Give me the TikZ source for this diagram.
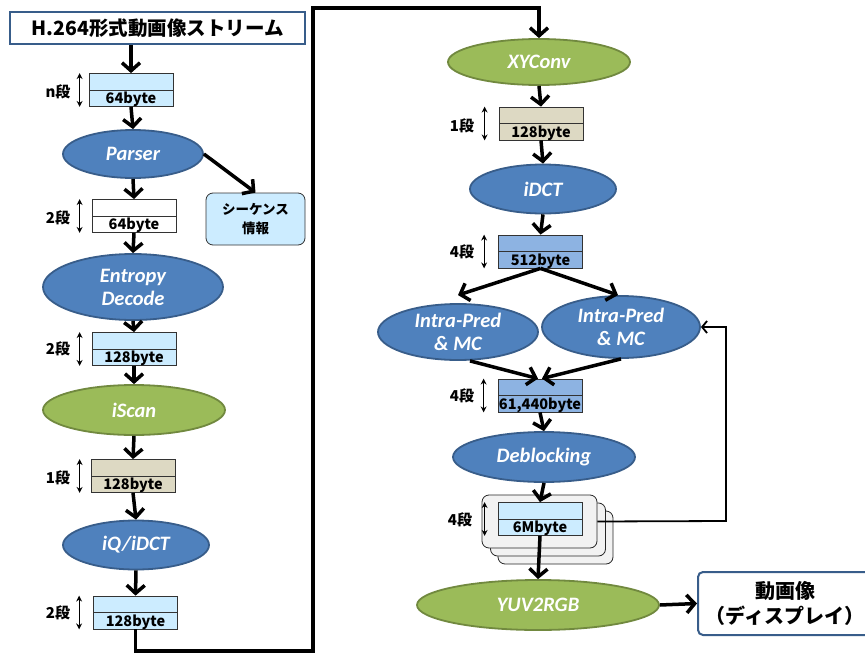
\documentclass[tikz,border=0pt]{standalone}
\usepackage{fontspec}
\setmainfont{Carlito}
\newfontfamily\jpfont{Noto Sans CJK JP}
\usetikzlibrary{shapes.geometric, arrows.meta}

\definecolor{procblue}{HTML}{4F81BD}
\definecolor{procblueline}{HTML}{385D8A}
\definecolor{procgreen}{HTML}{9BBB59}
\definecolor{procgreenline}{HTML}{71893F}
\definecolor{bufcyan}{HTML}{CCECFF}
\definecolor{bufbeige}{HTML}{DDD9C3}
\definecolor{bufblue}{HTML}{8DB3E2}
\definecolor{framegray}{HTML}{F2F2F2}

\tikzset{
  proc/.style={ellipse, inner sep=0pt, line width=1.8pt, text=white, align=center,
    font=\fontsize{20.5}{23}\selectfont\bfseries\itshape},
  blueproc/.style={proc, draw=procblueline, fill=procblue},
  greenproc/.style={proc, draw=procgreenline, fill=procgreen},
  buffer/.style={rectangle, draw=black!80, line width=0.8pt, minimum width=84pt,
    minimum height=33pt, inner sep=0pt,
    path picture={\draw[black!80, line width=1pt] (path picture bounding box.west) -- (path picture bounding box.east);}},
  bytetxt/.style={font=\jpfont\bfseries\fontsize{14.5}{16}\selectfont, inner sep=0pt, anchor=base},
  stagetxt/.style={font=\jpfont\bfseries\fontsize{15}{16}\selectfont, inner sep=0pt},
  stagearrow/.style={line width=1.1pt, >={Stealth[length=6pt,width=6pt]}},
  flow/.style={line width=3.5pt, >={Straight Barb[length=8pt,width=18pt]}},
  fb/.style={line width=1.8pt, >={Straight Barb[length=5pt,width=12pt]}},
  textbox/.style={rectangle, inner sep=0pt, align=center},
  stackframe/.style={rectangle, rounded corners=7pt, draw=black!85, line width=0.8pt,
    fill=framegray, minimum width=115pt, minimum height=53pt},
}

\begin{document}
\begin{tikzpicture}[x=1pt, y=-1pt]
\useasboundingbox (0,0) rectangle (865,653);

% left column
\node[textbox, draw=procblueline, line width=2pt, fill=white, minimum width=295pt, minimum height=32pt,
  font=\jpfont\bfseries\fontsize{19.5}{22}\selectfont] (title) at (157.5,28) {H.264形式動画像ストリーム};

\node[buffer, fill=bufcyan] (b1) at (131,90) {};
\node[bytetxt] (b1t) at ([yshift=3pt]b1.south) {64byte};
\node[stagetxt] (s1) at (58,92) {n段};
\draw[stagearrow, <->] ([xshift=-9pt]b1.north west) -- ([xshift=-9pt]b1.south west);

\node[blueproc, minimum width=140pt, minimum height=48pt] (parser) at (133,154) {Parser};

\node[buffer, fill=white] (b2) at (134,216) {};
\node[bytetxt] (b2t) at ([yshift=3pt]b2.south) {64byte};
\node[stagetxt] (s2) at (58,218) {2段};
\draw[stagearrow, <->] ([xshift=-12pt]b2.north west) -- ([xshift=-12pt]b2.south west);

\node[textbox, rounded corners=7pt, draw=black!80, line width=0.8pt, fill=bufcyan,
  minimum width=99pt, minimum height=52pt,
  font=\jpfont\bfseries\fontsize{13.5}{19}\selectfont] (seq) at (255.5,219) {シーケンス\\情報};

\node[blueproc, minimum width=180pt, minimum height=66pt] (entropy) at (133,287) {Entropy\\Decode};

\node[buffer, fill=bufcyan] (b3) at (134,349) {};
\node[bytetxt] (b3t) at ([yshift=3pt]b3.south) {128byte};
\node[stagetxt] (s3) at (58,349) {2段};
\draw[stagearrow, <->] ([xshift=-12pt]b3.north west) -- ([xshift=-12pt]b3.south west);

\node[greenproc, minimum width=182pt, minimum height=50pt] (iscan) at (134,410) {iScan};

\node[buffer, fill=bufbeige] (b4) at (133,476) {};
\node[bytetxt] (b4t) at ([yshift=3pt]b4.south) {128byte};
\node[stagetxt] (s4) at (58,478) {1段};
\draw[stagearrow, <->] ([xshift=-11pt]b4.north west) -- ([xshift=-11pt]b4.south west);

\node[blueproc, minimum width=146pt, minimum height=49pt] (iqidct) at (136,545) {iQ/iDCT};

\node[buffer, fill=bufcyan] (b5) at (135.5,612.5) {};
\node[bytetxt] (b5t) at ([yshift=3pt]b5.south) {128byte};
\node[stagetxt] (s5) at (58,613) {2段};
\draw[stagearrow, <->] ([xshift=-14pt]b5.north west) -- ([xshift=-14pt]b5.south west);

\coordinate (bend1) at (313,651);
\coordinate (bend2) at (313,8);

% right column
\node[greenproc, minimum width=182pt, minimum height=46pt] (xyconv) at (539,62) {XYConv};

\node[buffer, fill=bufbeige] (br1) at (541,123.5) {};
\node[bytetxt] (br1t) at ([yshift=3pt]br1.south) {128byte};
\node[stagetxt] (sr1) at (462,126) {1段};
\draw[stagearrow, <->] ([xshift=-14pt]br1.north west) -- ([xshift=-14pt]br1.south west);

\node[blueproc, minimum width=146pt, minimum height=49pt] (idct) at (543,189) {iDCT};

\node[buffer, fill=bufblue] (br2) at (540.5,251.5) {};
\node[bytetxt] (br2t) at ([yshift=3pt]br2.south) {512byte};
\node[stagetxt] (sr2) at (462,252) {4段};
\draw[stagearrow, <->] ([xshift=-14pt]br2.north west) -- ([xshift=-14pt]br2.south west);

\node[blueproc, minimum width=160pt, minimum height=56pt] (ipl) at (458,332) {Intra-Pred\\\& MC};
\node[blueproc, minimum width=158pt, minimum height=62pt] (ipr) at (621,327) {Intra-Pred\\\& MC};

\node[buffer, fill=bufblue] (br3) at (540,395.5) {};
\node[bytetxt] (br3t) at ([yshift=3pt]br3.south) {61,440byte};
\node[stagetxt] (sr3) at (462,396) {4段};
\draw[stagearrow, <->] ([xshift=-14pt]br3.north west) -- ([xshift=-14pt]br3.south west);

\node[blueproc, minimum width=182pt, minimum height=50pt] (deblock) at (544,457) {Deblocking};

\node[stackframe] (fr3) at (555.5,537.5) {};
\node[stackframe] (fr2) at (548,529.5) {};
\node[stackframe] (fr1) at (539.5,521.5) {};
\node[buffer, fill=bufcyan] (b6) at (540,519) {};
\node[bytetxt] (b6t) at ([yshift=3pt]b6.south) {6Mbyte};
\node[stagetxt] (sr4) at (460,520) {4段};
\draw[stagearrow, <->] ([xshift=-13pt]b6.north west) -- ([xshift=-13pt]b6.south west);

\node[greenproc, minimum width=242pt, minimum height=50pt] (yuv) at (538,605) {YUV2RGB};

\node[textbox, rounded corners=5pt, draw=procblueline, line width=2pt, fill=white,
  minimum width=174pt, minimum height=63pt,
  font=\jpfont\bfseries\fontsize{20}{25}\selectfont] (disp) at (785,603.5) {動画像\\（ディスプレイ）};

\coordinate (fbturn) at (726,521);

% connectors
\draw[flow, ->] (title.south -| b1.north) -- (b1.north);
\draw[flow, ->] (b1.south) -- (parser.north);
\draw[flow, ->] (parser.east) -- (seq.north);
\draw[flow, ->] (parser.south) -- (b2.north);
\draw[flow, ->] (b2.south) -- (entropy.north);
\draw[flow, ->] (entropy.south) -- (b3.north);
\draw[flow, ->] (b3.south) -- (iscan.north);
\draw[flow, ->] (iscan.south) -- (b4.north);
\draw[flow, ->] (b4.south) -- (iqidct.north);
\draw[flow, ->] (iqidct.south) -- (b5.north);
\draw[flow, ->] (b5.south) |- (bend1) -- (bend2) -| (xyconv.north);

\draw[flow, ->] (xyconv.south) -- (br1.north);
\draw[flow, ->] (br1.south) -- (idct.north);
\draw[flow, ->] (idct.south) -- (br2.north);
\draw[flow, ->] (br2.south) -- ([yshift=8pt]ipl.north);
\draw[flow, ->] (br2.south) -- ([xshift=-3pt]ipr.north);
\draw[flow, ->] ([xshift=12pt]ipl.south) -- ([xshift=-2pt]br3.north);
\draw[flow, ->] (ipr.south) -- ([xshift=2pt]br3.north);
\draw[flow, ->] (br3.south) -- (deblock.north);
\draw[flow, ->] (deblock.south) -- (b6.north);
\draw[flow, ->] (b6.south) -- (yuv.north);
\draw[flow, ->] (yuv.east) -- (disp.west);
\draw[fb, ->] (fr1.east) -- (fbturn) |- (ipr.east);
\end{tikzpicture}
\end{document}
